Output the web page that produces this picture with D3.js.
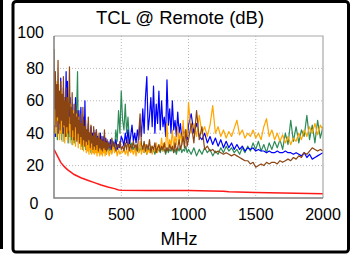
<!DOCTYPE html>
<html>
<head>
<meta charset="utf-8">
<script src="https://cdn.jsdelivr.net/npm/d3@7"></script>
<style>
  html, body { margin: 0; padding: 0; background: #fff; }
  svg { display: block; font-family: "Liberation Sans", Arial, sans-serif; }
</style>
</head>
<body>
<svg width="350" height="254"></svg>
<script>
const d3 = window.d3

// frequency points (MHz) shared by the noisy traces: 5 MHz up to 400, 10 MHz to 1000, then 20 MHz
const freqLow = [0,5,10,15,20,25,30,35,40,45,50,55,60,65,70,75,80,85,90,95,
  100,105,110,115,120,125,130,135,140,145,150,155,160,165,170,175,180,185,190,195,
  200,205,210,215,220,225,230,235,240,245,250,255,260,265,270,275,280,285,290,295,
  300,305,310,315,320,325,330,335,340,345,350,355,360,365,370,375,380,385,390,395,400]
const freqMid = [410,420,430,440,450,460,470,480,490,500,
  510,520,530,540,550,560,570,580,590,600,610,620,630,640,650,660,670,680,690,700,
  710,720,730,740,750,760,770,780,790,800,810,820,830,840,850,860,870,880,890,900,
  910,920,930,940,950,960,970,980,990,1000]
const freqHigh = [1020,1040,1060,1080,1100,1120,1140,1160,1180,1200,1220,1240,1260,1280,1300,
  1320,1340,1360,1380,1400,1420,1440,1460,1480,1500,1520,1540,1560,1580,1600,1620,1640,1660,1680,1700,
  1720,1740,1760,1780,1800,1820,1840,1860,1880,1900,1920,1940,1960,1980,2000]
const freq = freqLow.concat(freqMid, freqHigh)

const green = [55,38,60,42,50,36,62,40,48,44, 58,36,50,40,56,35,46,42,54,38,
  48,34,52,38,44,36,50,33,46,40, 34,48,38,50,60,78,42,36,44,34,
  46,32,40,30,44,33,38,30,42,31, 38,29,36,31,34,28,36,30,33,28,
  34,29,32,28,33,30,35,28,31,29, 30,33,27,31,29,32,28,30,27,33, 33,
  29,31,28,35,30,42,35,54,40,66,
  48,42,58,40,50,36,32,34,30,32, 29,33,28,31,29,32,28,30,27,31,
  29,32,28,30,27,31,29,30,28,31, 29,30,27,31,28,30,29,31,28,30,
  27,31,29,32,28,30,29,32,28,30,
  27,31,26,30,27,31,28,30,26,29,27,31,28,32,29,
  31,28,30,27,31,28,32,29,34,30,35,29,33,28,34,30,35,31,36,30,
  40,33,48,35,44,34,42,38,51,36,45,34,48,37,44]

const blue = [42,58,38,66,44,70,40,52,60,45, 74,42,56,48,68,40,62,46,78,44,
  72,40,55,46,62,38,50,42,58,36, 48,40,62,37,50,44,38,54,35,46,
  56,34,44,38,50,36,60,34,42,38, 36,46,33,40,35,44,32,40,34,42,
  33,40,31,42,34,38,31,36,33,40, 31,36,30,38,32,34,30,37,31,35, 35,
  31,36,30,34,32,36,30,33,31,38,
  36,32,40,34,42,33,38,45,35,40, 34,42,36,48,38,55,40,62,75,42,
  50,62,44,69,40,58,46,66,42,60, 44,50,38,73,45,55,40,60,42,48,
  38,53,40,46,36,44,38,42,36,45,
  52,40,46,38,36,40,34,38,33,37,32,36,31,35,31,
  34,30,33,30,32,29,31,30,31,29,30,29,29,28,29,28,28,29,28,28,
  29,28,28,27,28,27,26,28,25,27,24,25,26,27,28]

const orange = [45,68,40,72,38,60,48,70,36,58, 40,66,35,58,44,62,34,55,40,60,
  36,55,42,50,34,58,38,48,33,54, 38,46,32,52,36,44,31,50,34,42,
  30,46,33,40,29,44,32,38,28,42, 29,38,27,40,30,36,27,38,28,34,
  27,35,28,33,26,36,28,32,26,34, 27,32,26,33,28,31,26,34,27,30, 31,
  26,30,27,33,28,31,26,30,27,29,
  28,31,27,30,26,33,28,30,27,31, 26,30,28,35,27,31,28,33,27,30,
  28,32,27,31,29,34,28,32,30,37, 29,34,31,46,30,36,32,42,31,38,
  33,44,35,40,33,48,36,42,38,59,
  40,46,38,51,40,44,38,45,57,40,44,38,42,37,41,
  38,43,48,39,42,37,40,38,42,37,40,36,44,49,38,42,36,40,35,39,
  34,38,33,37,35,40,36,42,38,44,40,46,39,45,42]

const brown = [92,55,78,44,70,50,85,46,66,42, 72,48,64,40,75,45,60,38,68,44,
  62,40,58,81,46,56,38,65,42,52, 36,58,44,50,35,54,40,48,34,52,
  38,46,33,56,36,44,32,48,35,42, 33,50,36,40,31,45,34,38,30,44,
  32,40,30,42,33,37,29,40,31,36, 30,38,29,35,31,42,30,34,29,36, 30,
  34,30,37,32,34,29,33,31,35,30,
  32,29,34,30,36,29,33,30,35,31, 33,29,40,52,33,30,35,29,33,30,
  36,28,32,30,34,28,31,33,29,32, 30,34,28,31,29,33,30,32,28,34,
  29,31,36,30,33,38,31,42,32,36,
  46,34,54,36,44,30,32,29,30,28,29,28,27,28,27,
  26,27,26,25,24,23,23,21,22,19,20,21,20,22,21,22,22,21,23,22,
  23,24,23,25,24,26,25,28,27,29,31,30,29,30,29]

// smooth reference limit trace
const limitFreq = [0,25,50,75,100,150,200,250,300,350,400,450,480,500,700,1000,1260,1300,1500,1700,2000]
const limitVal = [30,26,22,19.5,17.5,14.5,12.5,11,9.5,8,6.8,5.8,5,4.8,4.7,4.6,4.2,3.8,3.4,3.1,2.7]

const xTicks = [0,500,1000,1500,2000]
const yTicks = [0,20,40,60,80,100]

const svg = d3.select('svg')

// outer frames
svg.append('line')
    .attr('x1', 1.5).attr('x2', 1.5).attr('y1', 0).attr('y2', 249)
    .attr('stroke', '#000').attr('stroke-width', 3)
svg.append('rect')
    .attr('x', 13).attr('y', 1.5).attr('width', 335.5).attr('height', 250.5)
    .attr('rx', 3)
    .attr('fill', '#fff').attr('stroke', '#000').attr('stroke-width', 3)

let pLeft = 54, pRight = 323, pTop = 36, pBottom = 198

let x = d3.scaleLinear().domain([0, 2000]).range([pLeft, pRight])
let y = d3.scaleLinear().domain([0, 100]).range([pBottom, pTop])

// grid
svg.append('g')
  .selectAll('line')
  .data(xTicks.slice(1, -1))
  .enter()
  .append('line')
    .attr('x1', d => x(d)).attr('x2', d => x(d))
    .attr('y1', pTop).attr('y2', pBottom)
    .attr('stroke', '#b8b8b8').attr('stroke-dasharray', '1,2')
svg.append('g')
  .selectAll('line')
  .data(yTicks.slice(1, -1))
  .enter()
  .append('line')
    .attr('y1', d => y(d)).attr('y2', d => y(d))
    .attr('x1', pLeft).attr('x2', pRight)
    .attr('stroke', '#b8b8b8').attr('stroke-dasharray', '1,2')

svg.append('clipPath').attr('id', 'plot')
  .append('rect')
    .attr('x', pLeft).attr('y', pTop).attr('width', pRight - pLeft).attr('height', pBottom - pTop)

let line = d3.line().x(d => x(d[0])).y(d => y(d[1]))

let series = [
  { vals: green, color: '#2e8b57' },
  { vals: blue, color: '#0000ff' },
  { vals: orange, color: '#ffa500' },
  { vals: brown, color: '#8b4513' }
]

let plot = svg.append('g').attr('clip-path', 'url(#plot)')

plot.selectAll('path.trace')
  .data(series)
  .enter()
  .append('path')
    .attr('class', 'trace')
    .attr('d', s => line(freq.map((f, i) => [f, s.vals[i]])))
    .attr('fill', 'none')
    .attr('stroke', s => s.color)
    .attr('stroke-width', 1.2)
    .attr('stroke-linejoin', 'round')

plot.append('path')
    .attr('d', line(limitFreq.map((f, i) => [f, limitVal[i]])))
    .attr('fill', 'none')
    .attr('stroke', '#ff1a1a')
    .attr('stroke-width', 1.5)

// plot frame: light top/right, darker left/bottom
svg.append('path')
    .attr('d', `M${pLeft},${pTop}H${pRight}V${pBottom}`)
    .attr('fill', 'none').attr('stroke', '#a8a8a8').attr('stroke-width', 1.2)
svg.append('path')
    .attr('d', `M${pLeft},${pTop}V${pBottom}H${pRight}`)
    .attr('fill', 'none').attr('stroke', '#808080').attr('stroke-width', 1.5)

// tick labels (end labels nudged outward like the original)
svg.append('g')
  .selectAll('text')
  .data(yTicks)
  .enter()
  .append('text')
    .attr('x', d => d === 0 ? 38.5 : 44)
    .attr('y', d => y(d) + 5.5 + (d === 100 ? -4 : 0) + (d === 0 ? 5 : 0))
    .attr('text-anchor', 'end')
    .attr('font-size', 16)
    .text(d => d)

svg.append('g')
  .selectAll('text')
  .data(xTicks)
  .enter()
  .append('text')
    .attr('x', d => x(d) + (d === 0 ? -5 : 0))
    .attr('y', 220)
    .attr('text-anchor', 'middle')
    .attr('font-size', 16)
    .text(d => d)

svg.append('text')
    .attr('x', 180).attr('y', 24)
    .attr('text-anchor', 'middle')
    .attr('font-size', 18.5)
    .text('TCL @ Remote (dB)')

svg.append('text')
    .attr('x', 179).attr('y', 244.5)
    .attr('text-anchor', 'middle')
    .attr('font-size', 18)
    .text('MHz')
</script>
</body>
</html>
